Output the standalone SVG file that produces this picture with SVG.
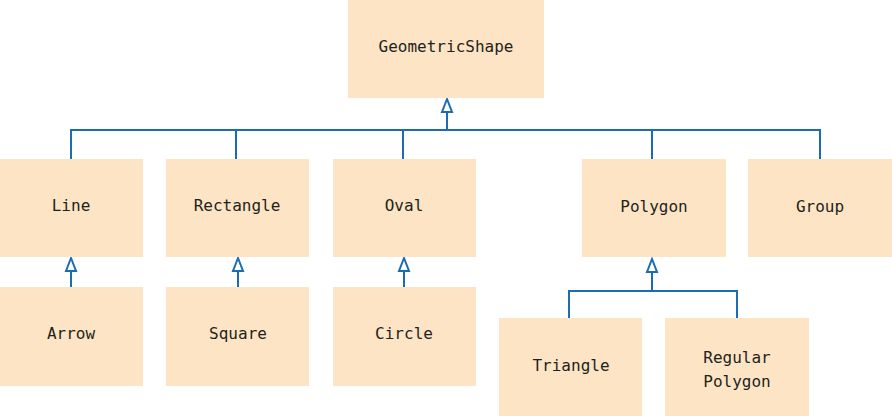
<svg xmlns="http://www.w3.org/2000/svg" width="892" height="416" viewBox="0 0 892 416">
<defs>
<style>
.node{fill:#FDE4C4;}
.lbl{font-family:"DejaVu Sans Mono","Liberation Mono",monospace;font-size:16px;fill:#231F20;text-anchor:middle;}
.conn{fill:none;stroke:#1B6DB3;stroke-width:2;}
.head{fill:#fff;stroke:#1B6DB3;stroke-width:2;stroke-linejoin:miter;}
</style>
</defs>
<rect width="892" height="416" fill="#fff"/>
<g id="connectors">
<path class="conn" d="M447 112 V130 M71 159 V130 H820 V159 M236 130 V159 M403 130 V159 M652 130 V159"/>
<polygon class="head" points="447,99 442,112 452,112"/>
<path class="conn" d="M71 271 V287"/>
<polygon class="head" points="71,258 66,271 76,271"/>
<path class="conn" d="M238 271 V287"/>
<polygon class="head" points="238,258 233,271 243,271"/>
<path class="conn" d="M404 271 V287"/>
<polygon class="head" points="404,258 399,271 409,271"/>
<path class="conn" d="M652 272 V291 M569 318 V291 H737 V318"/>
<polygon class="head" points="652,259 647,272 657,272"/>
</g>
<g id="GeometricShape"><rect class="node" x="348" y="0" width="196" height="98"/><text class="lbl" x="446" y="52">GeometricShape</text></g>
<g id="Line"><rect class="node" x="0" y="159" width="143" height="98"/><text class="lbl" x="71" y="211">Line</text></g>
<g id="Rectangle"><rect class="node" x="166" y="159" width="143" height="98"/><text class="lbl" x="237" y="211">Rectangle</text></g>
<g id="Oval"><rect class="node" x="333" y="159" width="143" height="98"/><text class="lbl" x="404" y="211">Oval</text></g>
<g id="Polygon"><rect class="node" x="582" y="159" width="144" height="98"/><text class="lbl" x="654" y="212">Polygon</text></g>
<g id="Group"><rect class="node" x="748" y="159" width="144" height="98"/><text class="lbl" x="820" y="212">Group</text></g>
<g id="Arrow"><rect class="node" x="0" y="287" width="143" height="99"/><text class="lbl" x="71" y="339">Arrow</text></g>
<g id="Square"><rect class="node" x="166" y="287" width="143" height="99"/><text class="lbl" x="238" y="339">Square</text></g>
<g id="Circle"><rect class="node" x="333" y="287" width="143" height="99"/><text class="lbl" x="404" y="339">Circle</text></g>
<g id="Triangle"><rect class="node" x="499" y="318" width="143" height="98"/><text class="lbl" x="571" y="371">Triangle</text></g>
<g id="RegularPolygon"><rect class="node" x="665" y="318" width="144" height="98"/><text class="lbl" x="737" y="363">Regular</text><text class="lbl" x="737" y="387">Polygon</text></g>
</svg>
